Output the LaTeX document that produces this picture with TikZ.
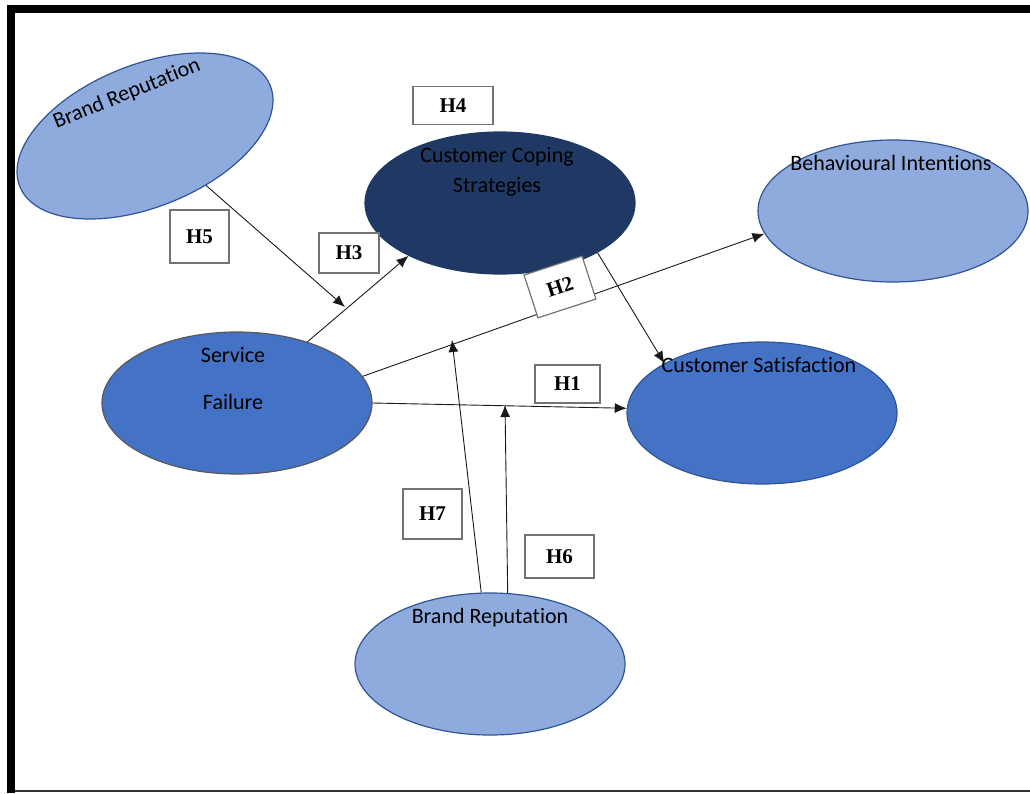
\documentclass[tikz,border=0pt]{standalone}
\usepackage{fontspec}
\usepackage{xcolor}
\usepackage{tikz}
\usetikzlibrary{positioning,arrows.meta,shapes.geometric,calc}

\newfontfamily\ellfont[Ligatures=NoCommon]{Carlito}
\newfontfamily\hypfont{Liberation Serif}

\definecolor{lightfill}{HTML}{8FAADC}
\definecolor{ringblue}{HTML}{2F5597}
\definecolor{midfill}{HTML}{4472C4}
\definecolor{navyfill}{HTML}{203864}
\definecolor{greyring}{HTML}{595959}

\begin{document}
\begin{tikzpicture}[
    x=1pt, y=1pt,
    >={Latex[length=12pt,width=10pt]},
    construct/.style={ellipse, draw=ringblue, line width=1.2pt, minimum width=270pt, minimum height=142pt, inner sep=0pt},
    light/.style={construct, fill=lightfill},
    mid/.style={construct, fill=midfill},
    dark/.style={construct, fill=navyfill, draw=navyfill},
    lbl/.style={font=\ellfont\fontsize{22}{30}\selectfont, align=center, inner sep=0pt},
    hyp/.style={draw=black!55, line width=1.2pt, fill=white, inner sep=0pt, font=\hypfont\bfseries\fontsize{21}{24}\selectfont},
    link/.style={->, line width=0.9pt, draw=black!90}
]
\useasboundingbox (0,0) rectangle (1030,-793);

% Frame
\fill[black] (7,-5) rectangle (1030,-13);
\fill[black] (7,-5) rectangle (15,-793);
\draw[black!80, line width=1.5pt] (15,-791) -- (1030,-791);

% === Constructs ===
\node[light, rotate=22] (brandtop) at (145,-136) {};
\node[dark] (coping) at (500,-203) {};
\node[light] (intent) at (893,-211) {};
\node[mid, draw=greyring] (failure) at (237,-403) {};
\node[mid] (satisf) at (762,-413) {};
\node[light] (brandlow) at (490,-664) {};

% === Construct labels ===
\node[lbl, rotate=22] (brandtoptxt) at (127,-94) {Brand Reputation};
\node[lbl] (copingtxt) at (497,-172) {Customer Coping\\Strategies};
\node[lbl] (intenttxt) at (891,-163) {Behavioural Intentions};
\node[lbl] (failuretxt) at (233,-379) {Service\\[17pt]Failure};
\node[lbl] (satisftxt) at (759,-365) {Customer Satisfaction};
\node[lbl] (brandlowtxt) at (490,-618) {Brand Reputation};

% === Free arrow ends ===
\coordinate (h5tip) at (345,-307);
\coordinate (h7tip) at (452,-340);
\coordinate (h6tip) at (505,-405);

% === Hypothesised paths ===
\draw[link] (brandtop.299) -- (h5tip);
\draw[link] (failure.41) -- (coping.210);
\draw[link] (failure.12) -- (intent.190);
\draw[link] (coping.333) -- (satisf.153);
\draw[link] (failure.east) -- (satisf.178);
\draw[link] (brandlow.97) -- (h7tip);
\draw[link] (brandlow.76) -- (h6tip);

% === Hypothesis boxes ===
\node[hyp, minimum width=80pt, minimum height=38pt] (h4) at (453,-105.5) {H4};
\node[hyp, minimum width=59pt, minimum height=53pt] (h5) at (199.5,-236.5) {H5};
\node[hyp, minimum width=60pt, minimum height=40pt] (h3) at (349,-253) {H3};
\node[hyp, minimum width=61pt, minimum height=45pt, rotate=18] (h2) at (560,-287) {H2};
\node[hyp, minimum width=65pt, minimum height=38pt] (h1) at (567.5,-384) {H1};
\node[hyp, minimum width=59pt, minimum height=50pt] (h7) at (432.5,-514) {H7};
\node[hyp, minimum width=69pt, minimum height=43pt] (h6) at (559.5,-556.5) {H6};
\end{tikzpicture}
\end{document}
